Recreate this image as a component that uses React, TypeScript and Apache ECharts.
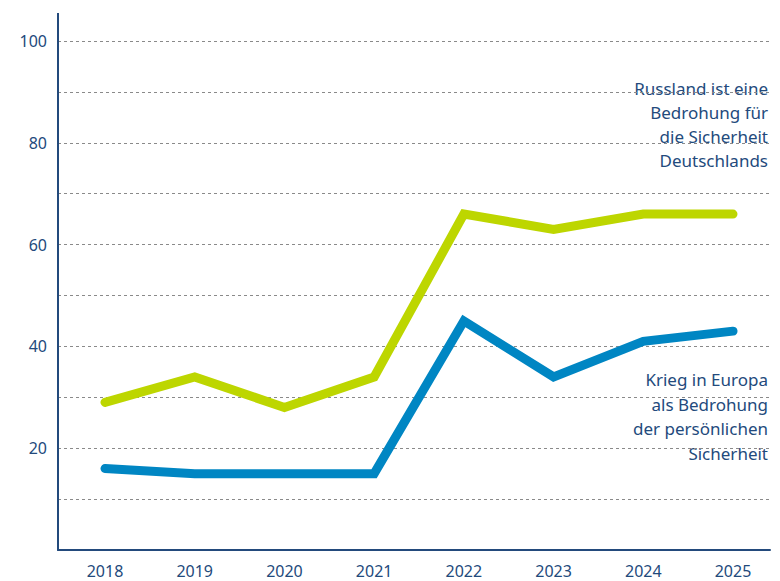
import React, { useEffect, useRef } from "react";
import * as echarts from "echarts";

const years = ["2018", "2019", "2020", "2021", "2022", "2023", "2024", "2025"];
const russlandBedrohung = [29, 34, 28, 34, 66, 63, 66, 66];
const kriegEuropa = [16, 15, 15, 15, 45, 34, 41, 43];
const yLabelValues = [20, 40, 60, 80, 100];
const greenLabel = ["Russland ist eine", "Bedrohung für", "die Sicherheit", "Deutschlands"];
const blueLabel = ["Krieg in Europa", "als Bedrohung", "der persönlichen", "Sicherheit"];

const GREEN = "#bdd600";
const BLUE = "#0086c3";
const NAVY = "#234a7c";
const FONT = "'Noto Sans', 'Open Sans', sans-serif";

export default function App() {
  const ref = useRef<HTMLDivElement>(null);
  useEffect(() => {
    if (!ref.current) return;
    const chart = echarts.init(ref.current, null, { renderer: "svg" });
    const top = 41;
    const bottom = 31;
    chart.setOption({
      animation: false,
      backgroundColor: "#ffffff",
      grid: [
        { left: 58, right: 10, top, bottom },
        { left: 105, right: 47, top, bottom },
      ],
      xAxis: [
        {
          gridIndex: 0,
          type: "value",
          min: 0,
          max: 1,
          axisLine: { show: true, onZero: false, lineStyle: { color: NAVY, width: 2 } },
          axisTick: { show: false },
          axisLabel: { show: false },
          splitLine: { show: false },
        },
        {
          gridIndex: 1,
          type: "category",
          data: years,
          boundaryGap: false,
          axisLine: { show: false },
          axisTick: { show: false },
          axisLabel: { color: NAVY, fontSize: 16, fontFamily: FONT, margin: 13 },
          splitLine: { show: false },
        },
      ],
      yAxis: [
        {
          gridIndex: 0,
          type: "value",
          min: 0,
          max: 100,
          interval: 10,
          axisLine: { show: true, lineStyle: { color: NAVY, width: 2 } },
          axisTick: { show: false },
          axisLabel: {
            color: NAVY,
            fontSize: 16,
            fontFamily: FONT,
            margin: 11,
            formatter: (v: number) => (yLabelValues.includes(v) ? String(v) : ""),
          },
          splitLine: {
            show: true,
            lineStyle: { color: "#8a8a8a", type: [3, 3], width: 1 },
          },
        },
        {
          gridIndex: 1,
          type: "value",
          min: 0,
          max: 100,
          show: false,
        },
      ],
      series: [
        {
          type: "line",
          xAxisIndex: 1,
          yAxisIndex: 1,
          data: russlandBedrohung,
          symbol: "none",
          lineStyle: { color: GREEN, width: 9, cap: "round", join: "miter" },
          z: 3,
        },
        {
          type: "line",
          xAxisIndex: 1,
          yAxisIndex: 1,
          data: kriegEuropa,
          symbol: "none",
          lineStyle: { color: BLUE, width: 9, cap: "round", join: "miter" },
          z: 4,
        },
      ],
      graphic: [
        {
          type: "line",
          shape: { x1: 58, y1: 13, x2: 58, y2: top },
          style: { stroke: NAVY, lineWidth: 2 },
        },
        ...greenLabel.map((t, i) => ({
          type: "text",
          right: 12,
          top: 80 + i * 24,
          style: { text: t, fill: NAVY, fontSize: 17, fontFamily: FONT, align: "right" },
        })),
        ...blueLabel.map((t, i) => ({
          type: "text",
          right: 12,
          top: 371 + i * 24.5,
          style: { text: t, fill: NAVY, fontSize: 17, fontFamily: FONT, align: "right" },
        })),
      ],
    });
    return () => chart.dispose();
  }, []);
  return <div ref={ref} style={{ width: 780, height: 581, position: "absolute", left: 0, top: 0 }} />;
}
